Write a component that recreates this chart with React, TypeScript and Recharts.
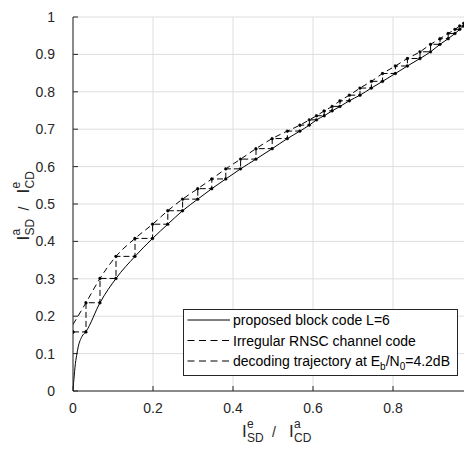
import React from 'react';
import { LineChart, Line, XAxis, YAxis, CartesianGrid, Legend } from 'recharts';

const FONT = '"Liberation Sans", Arial, Helvetica, sans-serif';
const AX = '#262626';

const xTicks = [0, 0.2, 0.4, 0.6, 0.8, 1];
const yTicks = [0, 0.1, 0.2, 0.3, 0.4, 0.5, 0.6, 0.7, 0.8, 0.9, 1];

// proposed block code L=6 (solid)
const blockX = [0, 0.0015, 0.003, 0.005, 0.009, 0.013, 0.022, 0.0325, 0.0675, 0.1075, 0.155, 0.199, 0.237, 0.274, 0.312, 0.347, 0.382, 0.419, 0.4575, 0.498, 0.536, 0.5675, 0.591, 0.609, 0.628, 0.648, 0.6675, 0.691, 0.7175, 0.746, 0.774, 0.806, 0.836, 0.8675, 0.894, 0.9175, 0.938, 0.955, 0.967, 0.977, 0.985, 0.991, 1];
const blockY = [0, 0.022, 0.04, 0.064, 0.095, 0.118, 0.145, 0.159, 0.236, 0.301, 0.36, 0.408, 0.446, 0.482, 0.513, 0.541, 0.567, 0.594, 0.62, 0.648, 0.675, 0.695, 0.711, 0.725, 0.736, 0.749, 0.761, 0.776, 0.791, 0.81, 0.828, 0.849, 0.869, 0.889, 0.907, 0.927, 0.942, 0.956, 0.967, 0.976, 0.983, 0.989, 1];

// Irregular RNSC channel code (dashed)
const rnscX = [0, 0.0325, 0.0675, 0.1075, 0.155, 0.199, 0.237, 0.274, 0.312, 0.347, 0.382, 0.419, 0.4575, 0.498, 0.536, 0.5675, 0.591, 0.609, 0.628, 0.648, 0.6675, 0.691, 0.7175, 0.746, 0.774, 0.806, 0.836, 0.8675, 0.894, 0.9175, 0.938, 0.955, 0.967, 0.977, 0.985, 1];
const rnscY = [0.178, 0.236, 0.301, 0.36, 0.408, 0.446, 0.482, 0.513, 0.541, 0.567, 0.594, 0.62, 0.648, 0.675, 0.695, 0.711, 0.725, 0.736, 0.749, 0.761, 0.776, 0.791, 0.81, 0.828, 0.849, 0.869, 0.889, 0.907, 0.927, 0.942, 0.956, 0.967, 0.976, 0.983, 0.989, 1];

// decoding trajectory at Eb/N0 = 4.2 dB
const trajX = [0, 0.0325, 0.0675, 0.1075, 0.155, 0.199, 0.237, 0.274, 0.312, 0.347, 0.382, 0.419, 0.4575, 0.498, 0.536, 0.5675, 0.591, 0.609, 0.628, 0.648, 0.6675, 0.691, 0.7175, 0.746, 0.774, 0.806, 0.836, 0.8675, 0.894, 0.9175, 0.938, 0.955, 0.967, 0.977, 0.985, 0.991, 0.995];
const trajLow = [0.158, 0.158, 0.236, 0.301, 0.36, 0.408, 0.446, 0.482, 0.513, 0.541, 0.567, 0.594, 0.62, 0.648, 0.675, 0.695, 0.711, 0.725, 0.736, 0.749, 0.761, 0.776, 0.791, 0.81, 0.828, 0.849, 0.869, 0.889, 0.907, 0.927, 0.942, 0.956, 0.967, 0.976, 0.983, 0.989, 0.994];
const trajUp = [0.158, 0.236, 0.301, 0.36, 0.408, 0.446, 0.482, 0.513, 0.541, 0.567, 0.594, 0.62, 0.648, 0.675, 0.695, 0.711, 0.725, 0.736, 0.749, 0.761, 0.776, 0.791, 0.81, 0.828, 0.849, 0.869, 0.889, 0.907, 0.927, 0.942, 0.956, 0.967, 0.976, 0.983, 0.989, 0.994, 0.997];

const legendLabels = ['proposed block code L=6', 'Irregular RNSC channel code', 'decoding trajectory at '];

const blockData = blockX.map((x, i) => ({ x, y: blockY[i] }));
const rnscData = rnscX.map((x, i) => ({ x, y: rnscY[i] }));
const trajData: { x: number; y: number }[] = [];
trajX.forEach((x, i) => {
  trajData.push({ x, y: trajLow[i] });
  trajData.push({ x, y: trajUp[i] });
});

const W = 474;
const H = 453;
const MARGIN = { top: 17, right: 1, bottom: 0, left: 0 };
const Y_W = 73;
const X_H = 62;
const PLOT_L = MARGIN.left + Y_W;
const PLOT_R = W - MARGIN.right;
const PLOT_T = MARGIN.top;
const PLOT_B = H - X_H;

type Piece = { t: string; a: number; d: number; s: number };
const pieces = (sup1: string, sub1: string, sup2: string, sub2: string): Piece[] => [
  { t: 'I', a: -33, d: 0, s: 17 },
  { t: sup1, a: -28, d: -9, s: 12 },
  { t: sub1, a: -28, d: 5, s: 12 },
  { t: '/', a: -3, d: 0, s: 14 },
  { t: 'I', a: 14, d: 0, s: 17 },
  { t: sup2, a: 19, d: -9, s: 12 },
  { t: sub2, a: 19, d: 5, s: 12 },
];

const XLabel = () => {
  const cx = (PLOT_L + PLOT_R) / 2 + 2;
  const by = 437;
  return (
    <g>
      {pieces('e', 'SD', 'a', 'CD').map((p, i) => (
        <text key={i} x={cx + p.a} y={by + p.d} fontSize={p.s} fill={AX} fontFamily={FONT}>
          {p.t}
        </text>
      ))}
    </g>
  );
};

const YLabel = () => {
  const cy = (PLOT_T + PLOT_B) / 2 + 3.5;
  const bx = 29;
  return (
    <g transform={`translate(${bx},${cy}) rotate(-90)`}>
      {pieces('a', 'SD', 'e', 'CD').map((p, i) => (
        <text key={i} x={p.a} y={p.d} fontSize={p.s} fill={AX} fontFamily={FONT}>
          {p.t}
        </text>
      ))}
    </g>
  );
};

const LegendBox = () => {
  const rows = [11, 31.5, 52];
  return (
    <svg width={275} height={67} style={{ display: 'block' }}>
      <rect x={0.5} y={0.5} width={274} height={66} fill="#fff" stroke={AX} strokeWidth={1} />
      {rows.map((ry, i) => (
        <g key={i}>
          <line x1={4.5} x2={47} y1={ry} y2={ry} stroke="#000" strokeWidth={1} strokeDasharray={i === 0 ? undefined : '7 4.5'} />
          <text x={50} y={ry + 5} fontSize={14} fill="#000" fontFamily={FONT}>
            {legendLabels[i]}
            {i === 2 ? (
              <>
                <tspan>E</tspan>
                <tspan fontSize={10} dy={4}>b</tspan>
                <tspan dy={-4}>/N</tspan>
                <tspan fontSize={10} dy={4}>0</tspan>
                <tspan dy={-4}>=4.2dB</tspan>
              </>
            ) : null}
          </text>
        </g>
      ))}
    </svg>
  );
};

const fmtX = (v: number) => (v === 1 ? '' : String(v));
const fmtY = (v: number) => String(v);
const tickStyle = { fontSize: 14, fill: AX, fontFamily: FONT };

export default function App() {
  return (
    <div style={{ margin: '-8px 0 0 -8px', width: 472, height: 453, overflow: 'hidden', background: '#fff' }}>
      <LineChart width={W} height={H} margin={MARGIN}>
        <CartesianGrid stroke="#dedede" strokeWidth={1} horizontalValues={yTicks} verticalValues={xTicks} />
        <XAxis
          type="number"
          dataKey="x"
          domain={[0, 1]}
          ticks={xTicks}
          interval={0}
          allowDataOverflow
          height={X_H}
          tickFormatter={fmtX}
          tick={tickStyle}
          tickSize={-5}
          tickMargin={17.5}
          axisLine={{ stroke: AX }}
          tickLine={{ stroke: AX }}
          label={<XLabel />}
        />
        <XAxis
          xAxisId="t"
          orientation="top"
          type="number"
          domain={[0, 1]}
          ticks={xTicks}
          interval={0}
          height={0}
          tick={false}
          tickSize={-5}
          axisLine={{ stroke: AX }}
          tickLine={{ stroke: AX }}
        />
        <YAxis
          type="number"
          domain={[0, 1]}
          ticks={yTicks}
          interval={0}
          allowDataOverflow
          width={Y_W}
          tickFormatter={fmtY}
          tick={tickStyle}
          tickSize={-5}
          tickMargin={23}
          axisLine={{ stroke: AX }}
          tickLine={{ stroke: AX }}
          label={<YLabel />}
        />
        <YAxis
          yAxisId="r"
          orientation="right"
          type="number"
          domain={[0, 1]}
          ticks={yTicks}
          interval={0}
          width={0}
          tick={false}
          tickSize={-5}
          axisLine={{ stroke: AX }}
          tickLine={{ stroke: AX }}
        />
        <Line data={blockData} dataKey="y" type="monotone" stroke="#000" strokeWidth={1} dot={false} isAnimationActive={false} />
        <Line data={rnscData} dataKey="y" type="monotone" stroke="#000" strokeWidth={1} strokeDasharray="6 4" dot={false} isAnimationActive={false} />
        <Line
          data={trajData}
          dataKey="y"
          type="linear"
          stroke="#000"
          strokeWidth={1}
          strokeDasharray="6 3"
          dot={{ r: 1.4, fill: '#000', stroke: '#000', strokeWidth: 0.5 }}
          isAnimationActive={false}
        />
        <Legend
          layout="vertical"
          align="center"
          verticalAlign="middle"
          content={<LegendBox />}
          wrapperStyle={{ left: 183, top: 309, width: 275, height: 67 }}
        />
      </LineChart>
    </div>
  );
}
